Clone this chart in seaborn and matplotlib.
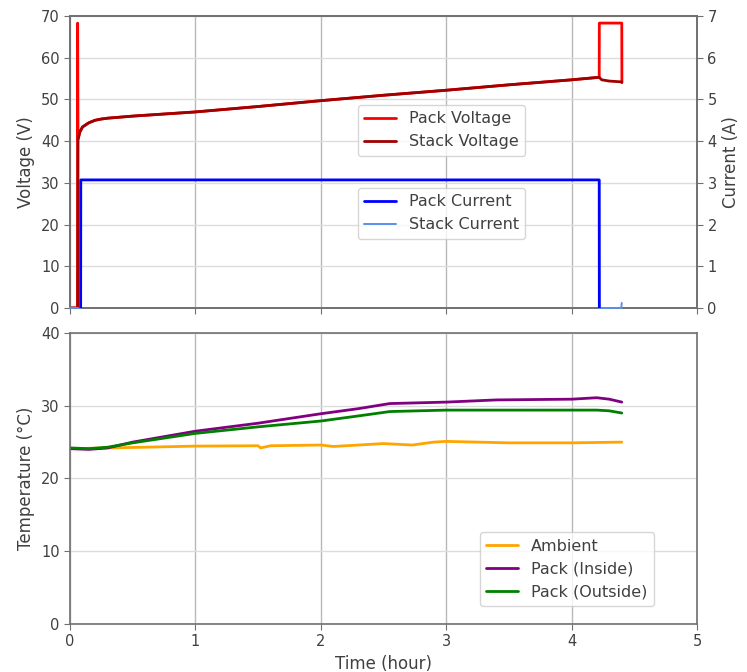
import numpy as np
import pandas as pd
import matplotlib
matplotlib.use("Agg")
import matplotlib.pyplot as plt
import seaborn as sns

# ---- Voltage (V) ----
pack_v_time = [0.0, 0.060, 0.061, 0.064, 0.08, 0.10, 0.15, 0.20, 0.25, 0.30, 0.50, 1.0, 1.5,
               2.0, 2.5, 3.0, 3.5, 4.0, 4.22, 4.221, 4.40, 4.401]
pack_v = [0.0, 0.0, 68.3, 40.5, 42.3, 43.4, 44.4, 45.0, 45.3, 45.5, 46.0, 47.0, 48.3,
          49.7, 51.0, 52.2, 53.5, 54.7, 55.3, 68.3, 68.3, 54.0]

stack_v_time = [0.0, 0.062, 0.064, 0.08, 0.10, 0.15, 0.20, 0.25, 0.30, 0.50, 1.0, 1.5,
                2.0, 2.5, 3.0, 3.5, 4.0, 4.22, 4.24, 4.30, 4.40]
stack_v = [0.0, 0.0, 40.5, 42.3, 43.4, 44.4, 45.0, 45.3, 45.5, 46.0, 47.0, 48.3,
           49.7, 51.0, 52.2, 53.5, 54.7, 55.3, 54.7, 54.4, 54.2]

# ---- Current (A) ----
pack_i_time = [0.085, 0.086, 4.22, 4.221]
pack_i = [0.0, 3.07, 3.07, 0.0]

stack_i_time = [0.0, 0.085, 0.086, 4.22, 4.221, 4.395, 4.40]
stack_i = [0.0, 0.0, 3.07, 3.07, 0.0, 0.0, 0.12]

# ---- Temperature (°C) ----
amb_time = [0.0, 0.3, 0.6, 1.0, 1.5, 1.52, 1.6, 2.0, 2.1, 2.5, 2.73, 2.9, 3.0, 3.5, 4.0, 4.4]
amb_t = [24.1, 24.2, 24.3, 24.45, 24.5, 24.2, 24.5, 24.6, 24.4, 24.8, 24.6, 25.0, 25.1, 24.9, 24.9, 25.0]

pack_time = [0.0, 0.15, 0.3, 0.5, 1.0, 1.5, 2.0, 2.3, 2.55, 3.0, 3.4, 4.0, 4.2, 4.3, 4.4]
inside_t = [24.1, 24.0, 24.2, 25.0, 26.5, 27.6, 28.9, 29.6, 30.3, 30.5, 30.8, 30.9, 31.1, 30.9, 30.5]
outside_t = [24.2, 24.1, 24.3, 24.9, 26.2, 27.1, 27.9, 28.6, 29.2, 29.4, 29.4, 29.4, 29.4, 29.3, 29.0]

sns.set_style("ticks")
plt.rcParams["font.family"] = ["DejaVu Sans"]

spine_c = "#707070"
text_c = "#404040"

fig = plt.figure(figsize=(7.47, 6.72), dpi=100)
ax_v = fig.add_axes([0.0937, 0.5417, 0.8394, 0.4345])
ax_t = fig.add_axes([0.0937, 0.0714, 0.8394, 0.4331])
ax_i = ax_v.twinx()


def style(ax):
    for s in ax.spines.values():
        s.set_color(spine_c)
        s.set_linewidth(1.2)
    ax.tick_params(colors=spine_c, labelcolor=text_c, labelsize=10.5, length=4)


kw = dict(estimator=None, sort=False)

# voltages
sns.lineplot(x=pack_v_time, y=pack_v, ax=ax_v, color="red", lw=2, label="Pack Voltage", **kw)
sns.lineplot(x=stack_v_time, y=stack_v, ax=ax_v, color="#a00000", lw=2, label="Stack Voltage", **kw)

# currents
sns.lineplot(x=stack_i_time, y=stack_i, ax=ax_i, color="#5a8fee", lw=1.4, label="Stack Current",
             zorder=4, clip_on=False, **kw)
sns.lineplot(x=pack_i_time, y=pack_i, ax=ax_i, color="blue", lw=2, label="Pack Current",
             zorder=5, **kw)

# temperatures
sns.lineplot(x=amb_time, y=amb_t, ax=ax_t, color="orange", lw=2, label="Ambient", **kw)
sns.lineplot(x=pack_time, y=inside_t, ax=ax_t, color="purple", lw=2, label="Pack (Inside)", **kw)
sns.lineplot(x=pack_time, y=outside_t, ax=ax_t, color="green", lw=2, label="Pack (Outside)", **kw)

for ax in (ax_v, ax_t):
    ax.set_xlim(0, 5)
    ax.set_xticks(range(6))
    ax.grid(True, axis="x", color="#b8b8b8", lw=1)
    ax.grid(True, axis="y", color="#dcdcdc", lw=1)
    ax.set_axisbelow(True)
    style(ax)
style(ax_i)

ax_v.set_ylim(0, 70)
ax_v.set_yticks(range(0, 71, 10))
ax_v.tick_params(axis="x", labelbottom=False)
ax_v.set_xlabel("")
ax_v.set_ylabel("Voltage (V)", fontsize=12, color=text_c)

ax_i.set_ylim(0, 7)
ax_i.set_yticks(range(0, 8))
ax_i.set_ylabel("Current (A)", fontsize=12, color=text_c)

ax_t.set_ylim(0, 40)
ax_t.set_yticks(range(0, 41, 10))
ax_t.set_ylabel("Temperature (°C)", fontsize=12, color=text_c)
ax_t.set_xlabel("Time (hour)", fontsize=12, color=text_c)

leg_kw = dict(fontsize=11.5, frameon=True, borderaxespad=0, handlelength=2.0, labelcolor=text_c)
hv, lv = ax_v.get_legend_handles_labels()
ax_v.legend(hv, lv, loc="upper left", bbox_to_anchor=(0.459, 0.695), **leg_kw)
hi, li = ax_i.get_legend_handles_labels()
ax_i.legend([hi[1], hi[0]], [li[1], li[0]], loc="upper left", bbox_to_anchor=(0.459, 0.411), **leg_kw)
ax_t.legend(loc="lower left", bbox_to_anchor=(0.654, 0.062), **leg_kw)

fig.savefig("out.png", dpi=100)
